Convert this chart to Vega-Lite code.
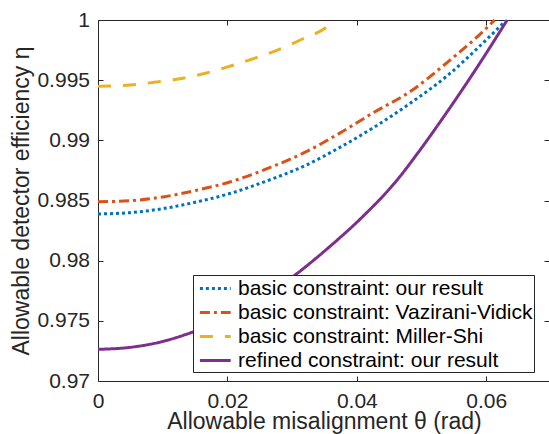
{
  "$schema": "https://vega.github.io/schema/vega-lite/v6.json",
  "width": 451,
  "height": 361,
  "autosize": {"type": "none"},
  "padding": {"left": 98, "top": 20, "right": 0, "bottom": 53},
  "background": "white",
  "config": {
    "view": {"stroke": null},
    "font": "Liberation Sans",
    "axis": {
      "grid": false,
      "domainColor": "#262626",
      "domainWidth": 1,
      "tickColor": "#262626",
      "tickWidth": 1,
      "tickSize": -5,
      "labelColor": "#262626",
      "labelFontSize": 21,
      "labelFont": "Liberation Sans",
      "labelFlush": false,
      "labelOverlap": false,
      "titleColor": "#262626",
      "titleFontSize": 23,
      "titleFontWeight": "normal",
      "titleFont": "Liberation Sans"
    }
  },
  "data": {
    "values": [
      {"series": "basic constraint: our result", "theta": 0, "eta": 0.98388},
      {"series": "basic constraint: our result", "theta": 0.005, "eta": 0.98399},
      {"series": "basic constraint: our result", "theta": 0.0103, "eta": 0.98435},
      {"series": "basic constraint: our result", "theta": 0.0154, "eta": 0.9849},
      {"series": "basic constraint: our result", "theta": 0.0205, "eta": 0.9856},
      {"series": "basic constraint: our result", "theta": 0.0269, "eta": 0.98679},
      {"series": "basic constraint: our result", "theta": 0.0322, "eta": 0.98795},
      {"series": "basic constraint: our result", "theta": 0.0373, "eta": 0.98939},
      {"series": "basic constraint: our result", "theta": 0.0424, "eta": 0.991},
      {"series": "basic constraint: our result", "theta": 0.0486, "eta": 0.99321},
      {"series": "basic constraint: our result", "theta": 0.0538, "eta": 0.99529},
      {"series": "basic constraint: our result", "theta": 0.0589, "eta": 0.99778},
      {"series": "basic constraint: our result", "theta": 0.0631, "eta": 1.0},
      {"series": "basic constraint: Vazirani-Vidick", "theta": 0, "eta": 0.9849},
      {"series": "basic constraint: Vazirani-Vidick", "theta": 0.005, "eta": 0.98498},
      {"series": "basic constraint: Vazirani-Vidick", "theta": 0.0103, "eta": 0.98532},
      {"series": "basic constraint: Vazirani-Vidick", "theta": 0.0154, "eta": 0.98587},
      {"series": "basic constraint: Vazirani-Vidick", "theta": 0.0205, "eta": 0.98656},
      {"series": "basic constraint: Vazirani-Vidick", "theta": 0.0269, "eta": 0.98781},
      {"series": "basic constraint: Vazirani-Vidick", "theta": 0.0322, "eta": 0.98906},
      {"series": "basic constraint: Vazirani-Vidick", "theta": 0.0373, "eta": 0.99058},
      {"series": "basic constraint: Vazirani-Vidick", "theta": 0.0424, "eta": 0.99225},
      {"series": "basic constraint: Vazirani-Vidick", "theta": 0.0486, "eta": 0.99418},
      {"series": "basic constraint: Vazirani-Vidick", "theta": 0.0538, "eta": 0.9964},
      {"series": "basic constraint: Vazirani-Vidick", "theta": 0.0589, "eta": 0.99875},
      {"series": "basic constraint: Vazirani-Vidick", "theta": 0.0613, "eta": 1.0},
      {"series": "basic constraint: Miller-Shi", "theta": 0, "eta": 0.99449},
      {"series": "basic constraint: Miller-Shi", "theta": 0.004, "eta": 0.99456},
      {"series": "basic constraint: Miller-Shi", "theta": 0.0087, "eta": 0.99482},
      {"series": "basic constraint: Miller-Shi", "theta": 0.0127, "eta": 0.99512},
      {"series": "basic constraint: Miller-Shi", "theta": 0.0166, "eta": 0.99557},
      {"series": "basic constraint: Miller-Shi", "theta": 0.0205, "eta": 0.99618},
      {"series": "basic constraint: Miller-Shi", "theta": 0.0242, "eta": 0.99682},
      {"series": "basic constraint: Miller-Shi", "theta": 0.028, "eta": 0.99756},
      {"series": "basic constraint: Miller-Shi", "theta": 0.0316, "eta": 0.99842},
      {"series": "basic constraint: Miller-Shi", "theta": 0.0359, "eta": 0.99967},
      {"series": "basic constraint: Miller-Shi", "theta": 0.0365, "eta": 1.0},
      {"series": "refined constraint: our result", "theta": 0, "eta": 0.97263},
      {"series": "refined constraint: our result", "theta": 0.00486, "eta": 0.97279},
      {"series": "refined constraint: our result", "theta": 0.0095, "eta": 0.97322},
      {"series": "refined constraint: our result", "theta": 0.01444, "eta": 0.97403},
      {"series": "refined constraint: our result", "theta": 0.02031, "eta": 0.97533},
      {"series": "refined constraint: our result", "theta": 0.02494, "eta": 0.97669},
      {"series": "refined constraint: our result", "theta": 0.03066, "eta": 0.97889},
      {"series": "refined constraint: our result", "theta": 0.03575, "eta": 0.98114},
      {"series": "refined constraint: our result", "theta": 0.04085, "eta": 0.98363},
      {"series": "refined constraint: our result", "theta": 0.0461, "eta": 0.98662},
      {"series": "refined constraint: our result", "theta": 0.04965, "eta": 0.98911},
      {"series": "refined constraint: our result", "theta": 0.05383, "eta": 0.99227},
      {"series": "refined constraint: our result", "theta": 0.05892, "eta": 0.99634},
      {"series": "refined constraint: our result", "theta": 0.06324, "eta": 1.0}
    ]
  },
  "layer": [
    {
      "mark": {"type": "line", "strokeWidth": 3, "interpolate": "monotone"},
      "encoding": {
        "x": {
          "field": "theta", "type": "quantitative",
          "scale": {"domain": [0, 0.0697], "nice": false, "zero": false},
          "axis": {
            "orient": "bottom",
            "values": [0, 0.02, 0.04, 0.06],
            "format": ".2~f",
            "labelPadding": 14.5,
            "title": "Allowable misalignment θ (rad)",
            "titleX": 226, "titleY": 47,
            "titleAlign": "center", "titleBaseline": "alphabetic"
          }
        },
        "y": {
          "field": "eta", "type": "quantitative",
          "scale": {"domain": [0.97, 1], "nice": false, "zero": false},
          "axis": {
            "orient": "left",
            "values": [0.97, 0.975, 0.98, 0.985, 0.99, 0.995, 1],
            "format": ".3~f",
            "labelPadding": 13.5,
            "labelBaseline": "middle",
            "title": "Allowable detector efficiency η",
            "titleX": -69.5, "titleY": 180.5, "titleAngle": 270,
            "titleAlign": "center", "titleBaseline": "alphabetic"
          }
        },
        "color": {
          "field": "series", "type": "nominal",
          "sort": ["basic constraint: our result", "basic constraint: Vazirani-Vidick", "basic constraint: Miller-Shi", "refined constraint: our result"],
          "scale": {
            "domain": ["basic constraint: our result", "basic constraint: Vazirani-Vidick", "basic constraint: Miller-Shi", "refined constraint: our result"],
            "range": ["#0072BD", "#D95319", "#EDB120", "#7E2F8E"]
          },
          "legend": {
            "title": null, "orient": "none", "legendX": 95, "legendY": 255,
            "fillColor": "white", "strokeColor": "#262626", "padding": 1,
            "labelFontSize": 21, "labelColor": "#000000", "labelFont": "Liberation Sans",
            "labelOffset": 19, "rowPadding": 1,
            "symbolType": "M-0.6,0H2.2", "symbolSize": 484, "symbolStrokeWidth": 3,
            "symbolFillColor": "transparent",
            "labelLimit": 400
          }
        },
        "strokeDash": {
          "field": "series", "type": "nominal",
          "sort": ["basic constraint: our result", "basic constraint: Vazirani-Vidick", "basic constraint: Miller-Shi", "refined constraint: our result"],
          "scale": {
            "domain": ["basic constraint: our result", "basic constraint: Vazirani-Vidick", "basic constraint: Miller-Shi", "refined constraint: our result"],
            "range": [[3, 3], [10, 4, 3, 4], [13, 12], [1, 0]]
          },
          "legend": {
            "title": null, "orient": "none", "legendX": 95, "legendY": 255,
            "fillColor": "white", "strokeColor": "#262626", "padding": 1,
            "labelFontSize": 21, "labelColor": "#000000", "labelFont": "Liberation Sans",
            "labelOffset": 19, "rowPadding": 1,
            "symbolType": "M-0.6,0H2.2", "symbolSize": 484, "symbolStrokeWidth": 3,
            "symbolFillColor": "transparent",
            "labelLimit": 400
          }
        }
      }
    },
    {
      "mark": {"type": "line", "opacity": 0},
      "encoding": {
        "x": {
          "field": "theta", "type": "quantitative",
          "axis": {"orient": "top", "values": [0, 0.02, 0.04, 0.06], "labels": false, "title": null}
        },
        "y": {
          "field": "eta", "type": "quantitative",
          "axis": {"orient": "right", "values": [0.97, 0.975, 0.98, 0.985, 0.99, 0.995, 1], "labels": false, "title": null, "domain": false}
        }
      }
    }
  ],
  "resolve": {"axis": {"x": "independent", "y": "independent"}}
}
